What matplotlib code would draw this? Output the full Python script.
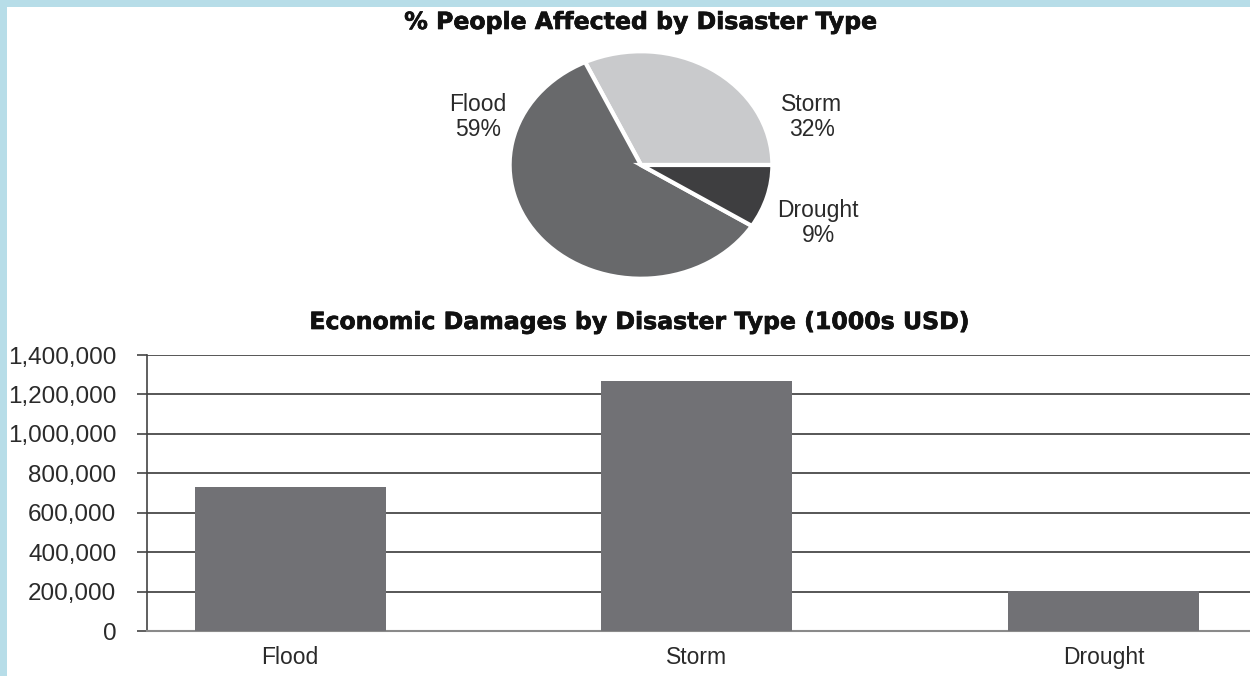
import matplotlib.pyplot as plt
import matplotlib.patheffects as pe
from matplotlib.patches import Rectangle
from matplotlib.ticker import FuncFormatter

# data
pie_labels = ["Storm", "Flood", "Drought"]
pie_values = [32, 59, 9]
pie_colors = ["#c9cacc", "#68696b", "#3e3e40"]

bar_labels = ["Flood", "Storm", "Drought"]
bar_values = [732000, 1270000, 202000]
y_ticks = [0, 200000, 400000, 600000, 800000, 1000000, 1200000, 1400000]

W, H = 1250, 676
fig = plt.figure(figsize=(W / 100, H / 100), dpi=100)
fig.patch.set_facecolor("#b7dde8")
fig.patches.append(Rectangle((7 / W, 0), 1 - 7 / W, 1 - 7 / H, transform=fig.transFigure,
                             facecolor="white", edgecolor="none", zorder=-10))

lab_font = "Liberation Sans"
bold_fx = [pe.withStroke(linewidth=0.5, foreground="#111111")]

# pie chart
ax1 = fig.add_axes([(641 - 134) / W, 1 - 281 / H, 268 / W, 232 / H])
ax1.pie(pie_values, colors=pie_colors, startangle=0, counterclock=True,
        wedgeprops=dict(edgecolor="white", linewidth=3))
ax1.set_aspect("auto")
ax1.set_xlim(-1.02, 1.02)
ax1.set_ylim(-1.02, 1.02)
lab_pos = {"Flood": (-1.24, 0.42), "Storm": (1.30, 0.42), "Drought": (1.35, -0.51)}
for name, val in zip(pie_labels, pie_values):
    x, y = lab_pos[name]
    ax1.text(x, y, f"{name}\n{val}%", ha="center", va="center", fontsize=16.5,
             family=lab_font, color="#2a2a2a", linespacing=1.1, clip_on=False)

fig.text(641 / W, 1 - 22 / H, "% People Affected by Disaster Type", ha="center", va="center",
         fontsize=17, fontweight="bold", family="DejaVu Sans", color="#111111",
         path_effects=bold_fx)

# bar chart
ax2 = fig.add_axes([147 / W, 1 - 631 / H, (W - 147) / W, 276 / H])
ax2.patch.set_alpha(0)
xs = range(len(bar_labels))
ax2.bar(xs, bar_values, width=0.47, color="#717175", zorder=3)
ax2.set_xlim(-0.352, 2.36)
ax2.set_ylim(0, 1400000)
ax2.set_yticks(y_ticks)
ax2.yaxis.set_major_formatter(FuncFormatter(lambda v, p: f"{int(v):,}"))
ax2.set_xticks(list(xs))
ax2.set_xticklabels(bar_labels)
ax2.yaxis.grid(True, color="#3a3a3a", linewidth=1.2, zorder=1)
ax2.set_axisbelow(True)
for s in ["top", "right"]:
    ax2.spines[s].set_visible(False)
ax2.spines["left"].set_color("#444444")
ax2.spines["left"].set_linewidth(1.2)
ax2.spines["bottom"].set_color("#8a8a8a")
ax2.spines["bottom"].set_linewidth(1.5)
ax2.tick_params(axis="y", length=7, width=1.2, color="#444444", pad=15,
                labelsize=17.5, labelcolor="#2a2a2a")
ax2.tick_params(axis="x", length=0, pad=11, labelsize=16.5, labelcolor="#2a2a2a")
for t in ax2.get_xticklabels() + ax2.get_yticklabels():
    t.set_family(lab_font)

fig.text(640 / W, 1 - 322 / H, "Economic Damages by Disaster Type (1000s USD)", ha="center",
         va="center", fontsize=17, fontweight="bold", family="DejaVu Sans", color="#111111",
         path_effects=bold_fx)

fig.savefig("out.png", dpi=100)
